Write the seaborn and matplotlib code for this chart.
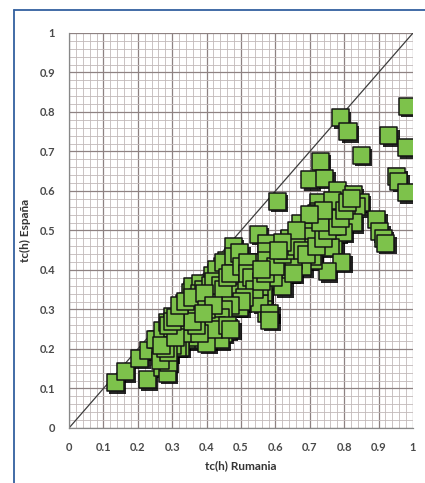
import numpy as np
import pandas as pd
import matplotlib
matplotlib.use("Agg")
import matplotlib.pyplot as plt
import matplotlib.patheffects as pe
from matplotlib.lines import Line2D
from matplotlib.ticker import MultipleLocator
import seaborn as sns

# tc(h) values: Rumania (x) vs España (y)
rumania = [
    0.983, 0.788, 0.811, 0.93, 0.98, 0.849, 0.73,
    0.953, 0.958, 0.98, 0.70, 0.744, 0.605,
    0.895, 0.904, 0.913, 0.92,
    0.78, 0.826, 0.846, 0.725, 0.767, 0.837, 0.725, 0.77, 0.808, 0.826, 0.672, 0.69,
    0.78, 0.77, 0.797, 0.767, 0.72, 0.709, 0.642, 0.759,
    0.55, 0.478, 0.575, 0.642, 0.70, 0.793, 0.75, 0.71, 0.652, 0.605, 0.546, 0.497,
    0.459, 0.43, 0.40, 0.36, 0.346, 0.323, 0.564, 0.575, 0.488, 0.535, 0.593, 0.477, 0.642,
    0.575, 0.535, 0.488, 0.445, 0.419, 0.401, 0.497, 0.593, 0.634, 0.622, 0.564, 0.555,
    0.584, 0.448, 0.381, 0.343, 0.419, 0.709, 0.651, 0.584, 0.68, 0.613,
    0.134, 0.163, 0.227, 0.206, 0.23, 0.273, 0.285, 0.256, 0.439, 0.459, 0.40, 0.323,
    0.36, 0.285, 0.265, 0.25, 0.273, 0.285, 0.302, 0.323, 0.337, 0.352, 0.36, 0.381,
    0.416, 0.43, 0.448, 0.477, 0.497, 0.40, 0.381, 0.39, 0.448, 0.439, 0.36, 0.323,
    0.302, 0.343, 0.323, 0.41, 0.43, 0.488, 0.517, 0.497, 0.555, 0.535, 0.593, 0.652,
    0.575, 0.652, 0.288, 0.265, 0.314, 0.40, 0.39,
    0.33, 0.335, 0.34, 0.345, 0.35, 0.355, 0.345, 0.33, 0.37, 0.375, 0.38, 0.39, 0.41,
    0.42, 0.44, 0.45, 0.46, 0.47, 0.50, 0.52, 0.52, 0.53, 0.54, 0.56, 0.57, 0.60, 0.62,
    0.63, 0.66, 0.68, 0.69, 0.72, 0.74, 0.75, 0.73, 0.78, 0.79, 0.80, 0.81, 0.82, 0.74,
    0.70, 0.66, 0.62, 0.61, 0.56, 0.51, 0.50, 0.47, 0.45, 0.44, 0.43, 0.42, 0.46, 0.47,
    0.38, 0.37, 0.36, 0.30, 0.29, 0.28, 0.27, 0.31, 0.29, 0.30, 0.31, 0.32, 0.34, 0.36,
    0.395, 0.40, 0.42, 0.39,
]
espana = [
    0.815, 0.785, 0.75, 0.74, 0.71, 0.69, 0.675,
    0.636, 0.625, 0.595, 0.628, 0.632, 0.574,
    0.527, 0.497, 0.48, 0.468,
    0.60, 0.59, 0.572, 0.572, 0.577, 0.56, 0.547, 0.527, 0.544, 0.52, 0.518, 0.497,
    0.493, 0.463, 0.496, 0.509, 0.544, 0.484, 0.476, 0.458,
    0.491, 0.46, 0.468, 0.48, 0.458, 0.42, 0.395, 0.425, 0.433, 0.425, 0.418, 0.40,
    0.425, 0.392, 0.357, 0.349, 0.319, 0.306, 0.324, 0.291, 0.306, 0.367, 0.375, 0.349, 0.392,
    0.446, 0.42, 0.418, 0.408, 0.382, 0.362, 0.382, 0.40, 0.42, 0.357, 0.342, 0.316,
    0.291, 0.332, 0.306, 0.273, 0.266, 0.433, 0.443, 0.273, 0.408, 0.408,
    0.114, 0.142, 0.122, 0.177, 0.197, 0.154, 0.18, 0.223, 0.248, 0.248, 0.248, 0.24,
    0.223, 0.139, 0.18, 0.223, 0.248, 0.266, 0.281, 0.299, 0.316, 0.342, 0.357, 0.367,
    0.387, 0.40, 0.418, 0.433, 0.443, 0.324, 0.281, 0.223, 0.24, 0.223, 0.23, 0.223,
    0.248, 0.256, 0.205, 0.291, 0.324, 0.342, 0.367, 0.306, 0.357, 0.40, 0.382, 0.425,
    0.425, 0.392, 0.167, 0.172, 0.205, 0.215, 0.273,
    0.26, 0.25, 0.24, 0.27, 0.28, 0.29, 0.30, 0.29, 0.31, 0.33, 0.34, 0.35, 0.36,
    0.37, 0.36, 0.35, 0.38, 0.39, 0.41, 0.42, 0.39, 0.38, 0.35, 0.37, 0.39, 0.41, 0.44,
    0.45, 0.46, 0.45, 0.44, 0.46, 0.48, 0.50, 0.52, 0.51, 0.53, 0.55, 0.57, 0.58, 0.55,
    0.54, 0.50, 0.47, 0.45, 0.40, 0.33, 0.32, 0.31, 0.30, 0.28, 0.26, 0.25, 0.26, 0.25,
    0.24, 0.26, 0.27, 0.21, 0.19, 0.20, 0.21, 0.23, 0.26, 0.27, 0.28, 0.31, 0.32, 0.33,
    0.34, 0.30, 0.31, 0.29,
]
ticks = [0, 0.1, 0.2, 0.3, 0.4, 0.5, 0.6, 0.7, 0.8, 0.9, 1]
tick_labels = ["0", "0.1", "0.2", "0.3", "0.4", "0.5", "0.6", "0.7", "0.8", "0.9", "1"]

df = pd.DataFrame({"Rumania": rumania, "Espana": espana})

sns.set_style("white")
plt.rcParams["font.family"] = ["Lato", "DejaVu Sans"]

fig = plt.figure(figsize=(4.25, 4.83), dpi=100)
ax = fig.add_axes([0.1624, 0.1139, 0.8094, 0.8178])

# grid: major every 0.1, minor every 0.02
ax.xaxis.set_minor_locator(MultipleLocator(0.02))
ax.yaxis.set_minor_locator(MultipleLocator(0.02))
ax.grid(which="minor", color="#c2b9b9", linewidth=0.6)
ax.grid(which="major", color="#8e8282", linewidth=0.9)
ax.set_axisbelow(True)

# diagonal reference line
ax.plot([0, 1], [0, 1], color="#3c3c3c", linewidth=0.9, zorder=2)

sns.scatterplot(data=df, x="Rumania", y="Espana", marker="s", s=150,
                color="#7dc24b", edgecolor="#151515", linewidth=1.1,
                ax=ax, zorder=3, legend=False)
ax.collections[0].set_path_effects([
    pe.SimplePatchShadow(offset=(1.8, -1.8), shadow_rgbFace="black", alpha=0.85),
    pe.Normal()])

ax.set_xlim(0, 1)
ax.set_ylim(0, 1)
ax.set_xticks(ticks)
ax.set_yticks(ticks)
ax.set_xticklabels(tick_labels, fontweight="bold")
ax.set_yticklabels(tick_labels, fontweight="bold")
ax.tick_params(which="major", direction="out", length=3, width=0.8, color="#888888",
               labelsize=8, labelcolor="#4a4a4a", pad=7)
ax.tick_params(which="minor", length=0)
ax.set_xlabel("tc(h) Rumania", fontsize=8.5, fontweight="bold", color="#333333", labelpad=5)
ax.set_ylabel("tc(h) España", fontsize=8.5, fontweight="bold", color="#333333", labelpad=6)

for side in ["top", "right"]:
    ax.spines[side].set_visible(False)
for side in ["left", "bottom"]:
    ax.spines[side].set_color("#888888")
    ax.spines[side].set_linewidth(0.9)

# blue frame around the figure (left and top edges)
fig.add_artist(Line2D([14 / 425, 14 / 425], [0, 1 - 10 / 483], color="#33609f",
                      linewidth=1.3, transform=fig.transFigure))
fig.add_artist(Line2D([14 / 425, 1], [1 - 10 / 483, 1 - 10 / 483], color="#33609f",
                      linewidth=1.3, transform=fig.transFigure))

fig.savefig("out.png", dpi=100)
